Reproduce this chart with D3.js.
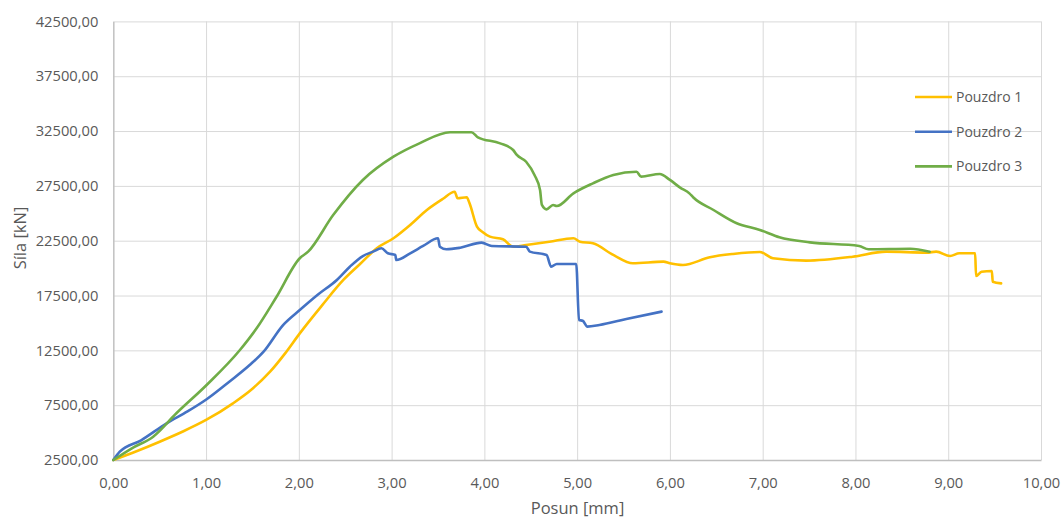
<!DOCTYPE html>
<html>
<head>
<meta charset="utf-8">
<script src="https://cdn.jsdelivr.net/npm/d3@7"></script>
<style>
  html, body { margin: 0; padding: 0; background: #fff; }
  svg { display: block; font-family: "Open Sans", "Noto Sans", sans-serif; }
</style>
</head>
<body>
<svg id="chart" width="1062" height="518"></svg>
<script>
// ---- Data ----
const seriesNames = ["Pouzdro 1", "Pouzdro 2", "Pouzdro 3"];
const seriesColors = ["#FFC000", "#4472C4", "#70AD47"];

const p1x = [0, 0.25, 0.5, 0.75, 1.0, 1.29, 1.5, 1.69, 1.85, 2.01, 2.25, 2.48, 2.66, 2.84, 3.02, 3.20, 3.38, 3.55, 3.68, 3.71, 3.81, 3.84, 3.92, 3.98, 4.06, 4.20, 4.31, 4.45, 4.70, 4.96, 5.03, 5.17, 5.39, 5.60, 5.93, 6.00, 6.14, 6.43, 6.68, 6.97, 7.11, 7.47, 7.97, 8.33, 8.77, 8.87, 9.02, 9.12, 9.29, 9.30, 9.36, 9.47, 9.48, 9.57];
const p1y = [2500, 3300, 4170, 5100, 6150, 7670, 9000, 10550, 12200, 14050, 16600, 18920, 20370, 21810, 22720, 23930, 25300, 26300, 26970, 26370, 26460, 25910, 23780, 23300, 22870, 22630, 21950, 22110, 22400, 22720, 22410, 22260, 21200, 20440, 20590, 20440, 20280, 20990, 21290, 21470, 20900, 20680, 21040, 21500, 21410, 21500, 21100, 21350, 21350, 19280, 19670, 19740, 18760, 18610];

const p2x = [0, 0.07, 0.3, 0.575, 0.8, 1.006, 1.25, 1.47, 1.62, 1.83, 2.01, 2.2, 2.41, 2.55, 2.69, 2.80, 2.89, 2.96, 3.04, 3.05, 3.20, 3.34, 3.50, 3.52, 3.59, 3.74, 3.97, 4.08, 4.45, 4.49, 4.67, 4.72, 4.78, 4.99, 5.02, 5.06, 5.11, 5.24, 5.53, 5.91];
const p2y = [2500, 3260, 4300, 5850, 6930, 8040, 9640, 11160, 12380, 14810, 16180, 17550, 18920, 20130, 21100, 21500, 21810, 21350, 21200, 20740, 21350, 22020, 22720, 21950, 21720, 21860, 22320, 22020, 21950, 21500, 21200, 20130, 20380, 20380, 15270, 15200, 14660, 14810, 15360, 16030];

const p3x = [0, 0.2, 0.43, 0.68, 1.006, 1.365, 1.545, 1.76, 2.01, 2.10, 2.37, 2.69, 3.02, 3.30, 3.63, 3.86, 3.93, 4.17, 4.31, 4.35, 4.45, 4.54, 4.60, 4.62, 4.67, 4.74, 4.78, 4.96, 5.17, 5.39, 5.64, 5.69, 5.89, 6.00, 6.11, 6.21, 6.25, 6.47, 6.72, 6.97, 7.18, 7.51, 8.04, 8.14, 8.59, 8.80];
const p3y = [2500, 3570, 4625, 6760, 9340, 12530, 14510, 17390, 20900, 21500, 24840, 28040, 30160, 31380, 32390, 32390, 31930, 31380, 30770, 30320, 29700, 28490, 27120, 25760, 25360, 25760, 25660, 26820, 27730, 28490, 28790, 28340, 28580, 28040, 27340, 26820, 26460, 25300, 24090, 23480, 22810, 22350, 22020, 21720, 21770, 21500];

const xTicks = [0, 1, 2, 3, 4, 5, 6, 7, 8, 9, 10];
const yTicks = [2500, 7500, 12500, 17500, 22500, 27500, 32500, 37500, 42500];
const xTitle = "Posun [mm]";
const yTitle = "Síla [kN]";

// ---- Layout ----
const plotLeft = 113.3, plotRight = 1041, plotTop = 21.4, plotBottom = 460;
const svg = d3.select("#chart");
const x = d3.scaleLinear().domain([0, 10]).range([plotLeft, plotRight]);
const y = d3.scaleLinear().domain([2500, 42500]).range([plotBottom, plotTop]);
const fmt = v => d3.format(".2f")(v).replace(".", ",");
const textColor = "#595959";

// Gridlines
svg.append("g")
  .attr("transform", `translate(0,${plotBottom})`)
  .call(d3.axisBottom(x).tickValues(xTicks).tickSize(-(plotBottom - plotTop)).tickFormat(""))
  .call(g => g.select(".domain").remove())
  .call(g => g.selectAll("line").attr("stroke", "#d9d9d9").attr("stroke-width", 1));
svg.append("g")
  .attr("transform", `translate(${plotLeft},0)`)
  .call(d3.axisLeft(y).tickValues(yTicks).tickSize(-(plotRight - plotLeft)).tickFormat(""))
  .call(g => g.select(".domain").remove())
  .call(g => g.selectAll("line").attr("stroke", "#d9d9d9").attr("stroke-width", 1));

// Axis lines + labels
svg.append("g")
  .attr("transform", `translate(0,${plotBottom})`)
  .call(d3.axisBottom(x).tickValues(xTicks).tickSize(0).tickFormat(fmt))
  .call(g => g.select(".domain").attr("stroke", "#bfbfbf").attr("stroke-width", 1.3))
  .call(g => g.selectAll("text").attr("y", 28).attr("dy", null)
      .attr("fill", textColor).attr("font-size", "14.7px").attr("font-family", "Open Sans"));
svg.append("g")
  .attr("transform", `translate(${plotLeft},0)`)
  .call(d3.axisLeft(y).tickValues(yTicks).tickSize(0).tickPadding(15).tickFormat(fmt))
  .call(g => g.select(".domain").attr("stroke", "#bfbfbf").attr("stroke-width", 1.3))
  .call(g => g.selectAll("text").attr("fill", textColor).attr("font-size", "14.7px").attr("font-family", "Open Sans"));

// Axis titles
svg.append("text")
  .attr("x", 577.5).attr("y", 514)
  .attr("text-anchor", "middle")
  .attr("fill", textColor).attr("font-size", "16.5px")
  .text(xTitle);
svg.append("text")
  .attr("transform", `translate(26,238) rotate(-90)`)
  .attr("text-anchor", "middle")
  .attr("fill", textColor).attr("font-size", "16.5px")
  .text(yTitle);

// Lines
const series = seriesNames.map((name, i) => {
  const xs = [p1x, p2x, p3x][i], ys = [p1y, p2y, p3y][i];
  return { name, color: seriesColors[i], values: xs.map((d, j) => ({ x: d, y: ys[j] })) };
});
const line = d3.line().x(d => x(d.x)).y(d => y(d.y)).curve(d3.curveMonotoneX);
svg.append("g").selectAll("path")
  .data(series)
  .join("path")
  .attr("d", d => line(d.values))
  .attr("fill", "none")
  .attr("stroke", d => d.color)
  .attr("stroke-width", 2.6)
  .attr("stroke-linejoin", "round")
  .attr("stroke-linecap", "round");

// Legend
const legend = svg.append("g").attr("transform", "translate(915,97)");
const items = legend.selectAll("g").data(series).join("g")
  .attr("transform", (d, i) => `translate(0,${i * 34.7})`);
items.append("line").attr("x1", 0).attr("x2", 37).attr("y1", 0).attr("y2", 0)
  .attr("stroke", d => d.color).attr("stroke-width", 2.6);
items.append("text").attr("x", 41).attr("y", 0).attr("dy", "0.35em")
  .attr("fill", textColor).attr("font-size", "14px")
  .text(d => d.name);
</script>
</body>
</html>
